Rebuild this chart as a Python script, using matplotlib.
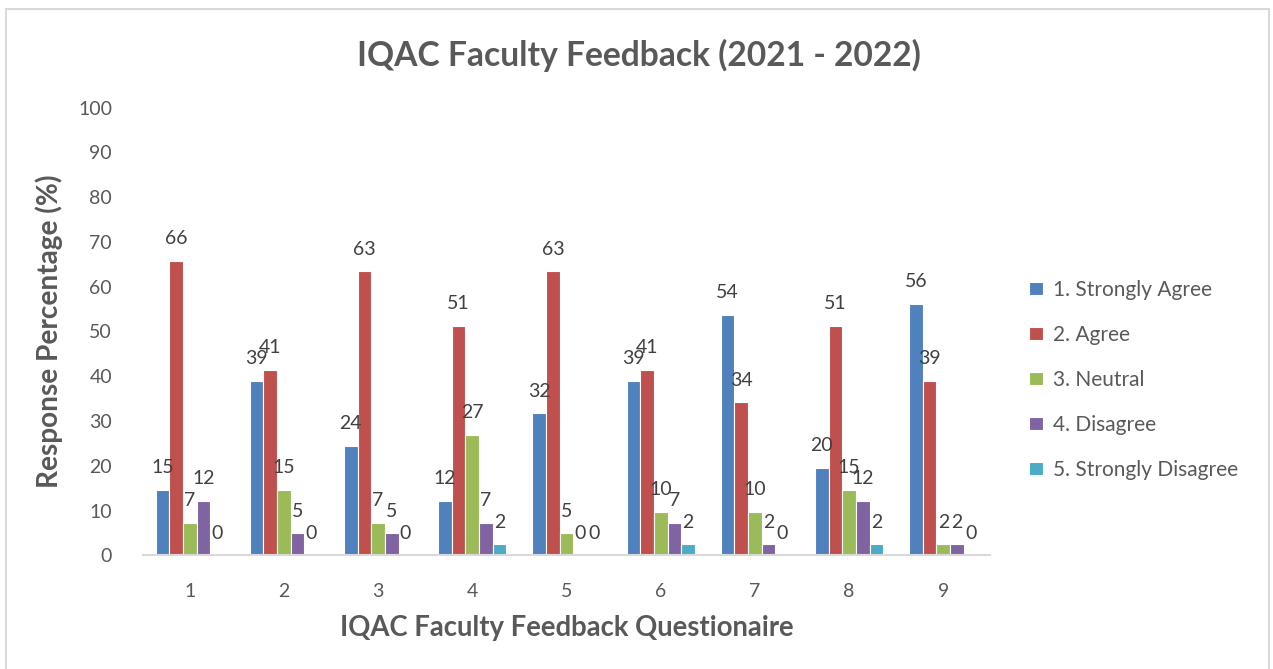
import matplotlib
matplotlib.use("Agg")
import matplotlib.pyplot as plt
import numpy as np
from matplotlib.patches import Rectangle

plt.rcParams['font.family'] = ['Lato', 'DejaVu Sans']

questions = ['1', '2', '3', '4', '5', '6', '7', '8', '9']
series = ['1. Strongly Agree', '2. Agree', '3. Neutral', '4. Disagree', '5. Strongly Disagree']
colors = ['#4F81BD', '#C0504D', '#9BBB59', '#8064A2', '#4BACC6']

strongly_agree = [14.63, 39.02, 24.39, 12.20, 31.71, 39.02, 53.66, 19.51, 56.10]
agree = [65.85, 41.46, 63.41, 51.22, 63.41, 41.46, 34.15, 51.22, 39.02]
neutral = [7.32, 14.63, 7.32, 26.83, 4.88, 9.76, 9.76, 14.63, 2.44]
disagree = [12.20, 4.88, 4.88, 7.32, 0.0, 7.32, 2.44, 12.20, 2.44]
strongly_disagree = [0.0, 0.0, 0.0, 2.44, 0.0, 2.44, 0.0, 2.44, 0.0]
values = [strongly_agree, agree, neutral, disagree, strongly_disagree]

text_col = '#595959'
label_col = '#404040'

fig = plt.figure(figsize=(12.73, 6.69), dpi=100)
ax = fig.add_axes([0.112, 0.170, 0.666, 0.669])

x = np.arange(len(questions))
w = 0.145
for i, (name, vals, c) in enumerate(zip(series, values, colors)):
    pos = x + (i - 2) * w
    ax.bar(pos, vals, width=w, color=c, edgecolor='white', linewidth=0.8, label=name)
    for px, v in zip(pos, vals):
        ax.annotate(f'{round(v):d}', (px, v), xytext=(0, 16), textcoords='offset points',
                    ha='center', va='center', fontsize=14, color=label_col)

ax.set_xlim(-0.5, len(questions) - 0.5)
ax.set_ylim(0, 100)
ax.set_yticks(range(0, 101, 10))
ax.set_xticks(x)
ax.set_xticklabels(questions)
ax.tick_params(axis='both', length=0, labelsize=14, labelcolor=text_col)
ax.tick_params(axis='x', pad=20)
ax.tick_params(axis='y', pad=22)
for s in ['top', 'right', 'left']:
    ax.spines[s].set_visible(False)
ax.spines['bottom'].set_color('#D9D9D9')
ax.spines['bottom'].set_linewidth(1.5)

ax.set_xlabel('IQAC Faculty Feedback Questionaire', fontsize=19.8, fontweight='bold',
              color=text_col, labelpad=11)
ax.set_ylabel('Response Percentage (%)', fontsize=20.2, fontweight='bold',
              color=text_col, labelpad=11)
fig.text(0.502, 0.917, 'IQAC Faculty Feedback (2021 - 2022)', ha='center', va='center',
         fontsize=24.2, fontweight='bold', color=text_col)

ax.legend(loc='center left', bbox_to_anchor=(1.024, 0.392), frameon=False, fontsize=15,
          labelcolor=text_col, handlelength=0.65, handleheight=0.65, handletextpad=0.5,
          labelspacing=1.2)

fig.patches.append(Rectangle((6 / 1273, -0.01), 1263 / 1273, 1 - 9 / 669 + 0.01,
                             transform=fig.transFigure, fill=False,
                             edgecolor='#D9D9D9', linewidth=1.5))

fig.savefig('out.png', dpi=100)
